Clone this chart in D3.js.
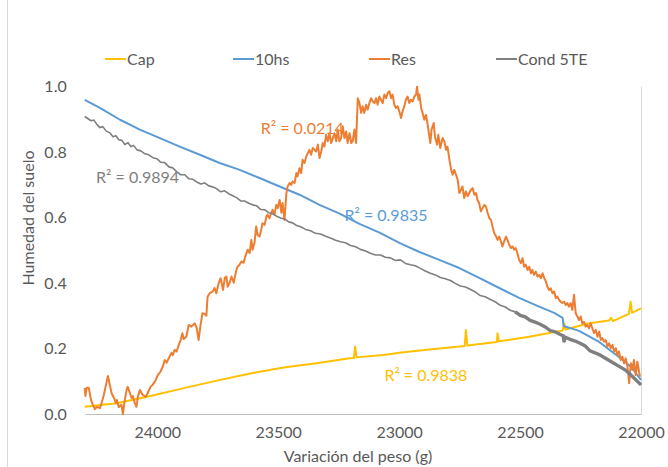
<!DOCTYPE html>
<html>
<head>
<meta charset="utf-8">
<script src="https://cdn.jsdelivr.net/npm/d3@7"></script>
<style>
  body { margin: 0; background: #fff; }
  svg text { font-family: Lato, "Noto Sans", sans-serif; }
</style>
</head>
<body>
<div id="chart"></div>
<script>
// ---- datos ----
var xTicks = [24000, 23500, 23000, 22500, 22000];
var yTicks = [0, 0.2, 0.4, 0.6, 0.8, 1.0];
var seriesNames = ["Cap", "10hs", "Res", "Cond 5TE"];

var capPeso = [24300, 24167, 24028, 23890, 23754, 23615, 23478, 23341, 23205, 23187, 23182, 23176, 23065, 22982, 22875, 22729, 22724, 22718, 22596, 22593, 22588, 22462, 22324, 22318, 22312, 22215, 22132, 22124, 22116, 22050, 22043, 22037, 22000];
var capHum = [0.022, 0.033, 0.055, 0.079, 0.102, 0.124, 0.142, 0.155, 0.170, 0.171, 0.206, 0.173, 0.180, 0.189, 0.197, 0.208, 0.257, 0.209, 0.220, 0.247, 0.222, 0.236, 0.255, 0.277, 0.258, 0.277, 0.286, 0.294, 0.284, 0.306, 0.343, 0.309, 0.323];

var hsPeso = [24300, 24237, 24154, 24072, 23989, 23907, 23824, 23742, 23659, 23577, 23494, 23412, 23329, 23246, 23164, 23081, 22999, 22916, 22834, 22751, 22669, 22586, 22504, 22421, 22359, 22324, 22320, 22256, 22173, 22091, 22037, 22000];
var hsHum = [0.960, 0.935, 0.899, 0.869, 0.843, 0.817, 0.792, 0.767, 0.746, 0.721, 0.695, 0.670, 0.639, 0.612, 0.581, 0.554, 0.523, 0.495, 0.471, 0.446, 0.416, 0.385, 0.355, 0.328, 0.309, 0.294, 0.269, 0.254, 0.220, 0.174, 0.141, 0.104];

var resPeso = [24300, 24297, 24292, 24283, 24274, 24266, 24258, 24250, 24237, 24230, 24221, 24212, 24204, 24196, 24189, 24179, 24171, 24167, 24159, 24148, 24142, 24134, 24127, 24122, 24113, 24106, 24101, 24093, 24086, 24080,
  24072, 24060, 24047, 24039, 24028, 24019, 24006, 23998, 23987, 23977, 23969, 23961, 23952, 23941, 23936, 23928, 23920, 23911, 23903, 23896, 23891, 23880, 23870, 23859, 23845, 23837, 23829, 23822, 23813, 23804,
  23797, 23792, 23783, 23771, 23763, 23756, 23746, 23738, 23728, 23721, 23714, 23709, 23701, 23693, 23684, 23673, 23668, 23660, 23652, 23643, 23636, 23626, 23618, 23611, 23606, 23598, 23591, 23585, 23577, 23570,
  23565, 23556, 23549, 23544, 23536, 23529, 23523, 23515, 23508, 23502, 23494, 23487, 23482, 23474, 23466, 23461, 23453, 23446, 23441, 23432, 23425, 23420, 23412, 23405, 23399, 23391, 23384, 23371, 23364, 23357,
  23343, 23336, 23329, 23322, 23316, 23309, 23302, 23295, 23288, 23281, 23274, 23267, 23260, 23254, 23247, 23240, 23233, 23226, 23219, 23213, 23205, 23198, 23192, 23185, 23178, 23171, 23164, 23157, 23151, 23144,
  23137, 23130, 23123, 23116, 23109, 23102, 23095, 23089, 23082, 23075, 23068, 23061, 23054, 23047, 23040, 23033, 23027, 23020, 23013, 23006, 22999, 22992, 22986, 22979, 22972, 22965, 22958, 22951, 22944, 22937,
  22930, 22926, 22920, 22916, 22909, 22903, 22896, 22889, 22882, 22875, 22871, 22866, 22857, 22852, 22843, 22838, 22830, 22820, 22813, 22806, 22800, 22792, 22785, 22779, 22772, 22765, 22758, 22751, 22744, 22738,
  22731, 22724, 22717, 22710, 22703, 22696, 22689, 22682, 22676, 22669, 22662, 22655, 22648, 22641, 22634, 22627, 22620, 22614, 22607, 22600, 22593, 22586, 22579, 22573, 22566, 22558, 22552, 22545, 22538, 22531,
  22524, 22518, 22511, 22504, 22497, 22490, 22483, 22476, 22469, 22462, 22455, 22449, 22442, 22435, 22428, 22421, 22414, 22407, 22400, 22393, 22387, 22380, 22373, 22366, 22359, 22352, 22346, 22339, 22332, 22325,
  22318, 22311, 22305, 22298, 22291, 22284, 22277, 22270, 22263, 22256, 22249, 22243, 22236, 22229, 22222, 22215, 22208, 22201, 22194, 22187, 22180, 22173, 22166, 22160, 22153, 22146, 22139, 22132, 22125, 22118,
  22111, 22104, 22098, 22091, 22084, 22077, 22070, 22063, 22056, 22049, 22042, 22036, 22029, 22022, 22015, 22008, 22004];
var resHum = [0.080, 0.055, 0.080, 0.080, 0.043, 0.028, 0.015, 0.022, 0.018, 0.034, 0.058, 0.089, 0.116, 0.089, 0.064, 0.049, 0.034, 0.043, 0.021, 0.028, 0.000, 0.043, 0.073, 0.083, 0.064, 0.049, 0.055, 0.034, 0.022, 0.053,
  0.073, 0.058, 0.053, 0.065, 0.083, 0.089, 0.104, 0.119, 0.129, 0.145, 0.165, 0.157, 0.171, 0.187, 0.180, 0.196, 0.191, 0.211, 0.226, 0.247, 0.229, 0.236, 0.272, 0.267, 0.277, 0.263, 0.226, 0.267, 0.308, 0.306,
  0.300, 0.358, 0.369, 0.374, 0.385, 0.369, 0.400, 0.415, 0.379, 0.416, 0.420, 0.389, 0.400, 0.420, 0.401, 0.440, 0.450, 0.456, 0.466, 0.462, 0.481, 0.502, 0.492, 0.532, 0.502, 0.523, 0.573, 0.547, 0.542, 0.563,
  0.583, 0.578, 0.603, 0.609, 0.598, 0.614, 0.624, 0.609, 0.639, 0.629, 0.654, 0.615, 0.645, 0.593, 0.675, 0.695, 0.706, 0.700, 0.710, 0.706, 0.736, 0.726, 0.751, 0.736, 0.777, 0.767, 0.787, 0.807, 0.792, 0.813,
  0.802, 0.823, 0.782, 0.802, 0.828, 0.817, 0.853, 0.833, 0.858, 0.828, 0.843, 0.858, 0.833, 0.869, 0.833, 0.843, 0.879, 0.843, 0.863, 0.828, 0.858, 0.828, 0.833, 0.869, 0.828, 0.965, 0.950, 0.920, 0.940, 0.920,
  0.945, 0.930, 0.950, 0.965, 0.955, 0.950, 0.965, 0.945, 0.970, 0.960, 0.950, 0.976, 0.965, 0.981, 0.986, 0.965, 0.976, 0.945, 0.935, 0.940, 0.924, 0.904, 0.924, 0.940, 0.960, 0.970, 0.950, 0.960, 0.955, 0.970,
  0.976, 1.000, 0.960, 0.976, 0.935, 0.920, 0.899, 0.914, 0.884, 0.848, 0.828, 0.869, 0.889, 0.848, 0.823, 0.853, 0.813, 0.843, 0.833, 0.807, 0.817, 0.777, 0.746, 0.731, 0.746, 0.731, 0.716, 0.675, 0.685, 0.695,
  0.660, 0.680, 0.665, 0.675, 0.685, 0.690, 0.670, 0.675, 0.654, 0.644, 0.619, 0.629, 0.639, 0.634, 0.614, 0.598, 0.593, 0.573, 0.553, 0.544, 0.532, 0.542, 0.527, 0.512, 0.527, 0.542, 0.532, 0.517, 0.507, 0.512,
  0.502, 0.507, 0.491, 0.471, 0.461, 0.476, 0.450, 0.456, 0.440, 0.450, 0.430, 0.440, 0.425, 0.435, 0.420, 0.425, 0.415, 0.430, 0.415, 0.405, 0.389, 0.379, 0.384, 0.369, 0.374, 0.354, 0.359, 0.349, 0.343, 0.339,
  0.343, 0.333, 0.339, 0.328, 0.339, 0.318, 0.364, 0.308, 0.298, 0.287, 0.298, 0.277, 0.282, 0.267, 0.272, 0.262, 0.277, 0.262, 0.247, 0.257, 0.236, 0.252, 0.226, 0.232, 0.221, 0.226, 0.206, 0.216, 0.201, 0.211,
  0.191, 0.201, 0.180, 0.191, 0.165, 0.175, 0.155, 0.170, 0.145, 0.094, 0.155, 0.135, 0.165, 0.119, 0.160, 0.129, 0.114];

var condPeso = [24300, 24286, 24274, 24262, 24249, 24237, 24225, 24212, 24196, 24183, 24171, 24159, 24146, 24134, 24121, 24109, 24097, 24084, 24068, 24051, 24035, 24018, 24002, 23985, 23969, 23952, 23936, 23919, 23903, 23886,
  23870, 23853, 23837, 23820, 23804, 23787, 23771, 23754, 23738, 23721, 23705, 23688, 23672, 23655, 23639, 23622, 23606, 23589, 23573, 23556, 23539, 23523, 23506, 23490, 23473, 23457, 23440, 23424, 23407, 23387,
  23366, 23346, 23325, 23304, 23284, 23263, 23242, 23222, 23201, 23180, 23160, 23139, 23119, 23098, 23077, 23057, 23036, 23015, 22995, 22974, 22953, 22933, 22912, 22892, 22871, 22850, 22830, 22809, 22788, 22768,
  22747, 22726, 22706, 22685, 22665, 22644, 22623, 22603, 22582, 22561, 22541, 22520, 22499, 22479, 22458, 22438, 22417, 22396, 22376, 22355, 22334, 22322, 22318, 22314, 22293, 22272, 22252, 22231, 22211, 22190,
  22169, 22149, 22128, 22107, 22087, 22066, 22046, 22025, 22000];
var condHum = [0.909, 0.902, 0.896, 0.898, 0.884, 0.875, 0.878, 0.865, 0.859, 0.847, 0.850, 0.838, 0.836, 0.823, 0.829, 0.817, 0.820, 0.807, 0.804, 0.795, 0.792, 0.783, 0.780, 0.769, 0.768, 0.755, 0.752, 0.740, 0.731, 0.731,
  0.719, 0.717, 0.709, 0.703, 0.706, 0.697, 0.694, 0.688, 0.679, 0.682, 0.673, 0.667, 0.661, 0.651, 0.651, 0.644, 0.639, 0.636, 0.625, 0.624, 0.615, 0.612, 0.604, 0.599, 0.596, 0.587, 0.584, 0.576, 0.572, 0.564,
  0.560, 0.552, 0.550, 0.543, 0.538, 0.531, 0.526, 0.523, 0.515, 0.511, 0.503, 0.498, 0.491, 0.486, 0.486, 0.479, 0.477, 0.469, 0.471, 0.460, 0.456, 0.453, 0.445, 0.437, 0.430, 0.425, 0.417, 0.413, 0.408, 0.399,
  0.391, 0.388, 0.381, 0.373, 0.362, 0.358, 0.350, 0.343, 0.332, 0.327, 0.317, 0.312, 0.301, 0.297, 0.286, 0.281, 0.274, 0.266, 0.255, 0.251, 0.243, 0.239, 0.220, 0.235, 0.228, 0.223, 0.216, 0.208, 0.193, 0.187,
  0.180, 0.171, 0.162, 0.153, 0.144, 0.135, 0.122, 0.107, 0.089];

// etiquetas R2: [peso, humedad] donde empieza el texto
var r2Text = ["R² = 0.9838", "R² = 0.9835", "R² = 0.0214", "R² = 0.9894"];
var r2Peso = [23061, 23226, 23572, 24253];
var r2Hum = [0.101, 0.589, 0.855, 0.706];

var colors = ["#FFC000", "#5B9BD5", "#ED7D31", "#7F7F7F"];

// ---- dibujo ----
var W = 668, H = 467;
var svg = d3.select("#chart").append("svg").attr("width", W).attr("height", H);

var x = d3.scaleLinear().domain([24300, 22000]).range([84.7, 641]);
var y = d3.scaleLinear().domain([0, 1]).range([414, 86.7]);

// borde izquierdo del grafico y borde derecho del area de trazado
svg.append("line").attr("x1", 7.5).attr("x2", 7.5).attr("y1", 0).attr("y2", H)
  .attr("stroke", "#d9d9d9");
svg.append("line").attr("x1", 641.5).attr("x2", 641.5).attr("y1", y(1)).attr("y2", y(0))
  .attr("stroke", "#d9d9d9");

// eje x
var xAxis = svg.append("g")
  .attr("transform", "translate(0," + y(0) + ")")
  .call(d3.axisBottom(x).tickValues(xTicks).tickSize(0).tickPadding(13).tickFormat(d3.format("d")));
xAxis.select(".domain").attr("stroke", "#bfbfbf");
xAxis.selectAll("text").attr("fill", "#595959").style("font-size", "16px");

// eje y
var yAxis = svg.append("g")
  .attr("transform", "translate(84.7,0)")
  .call(d3.axisLeft(y).tickValues(yTicks).tickSize(0).tickPadding(18).tickFormat(d3.format(".1f")));
yAxis.select(".domain").remove();
yAxis.selectAll("text").attr("fill", "#595959").style("font-size", "16px");

// titulos de ejes
svg.append("text").text("Variación del peso (g)")
  .attr("x", 358).attr("y", 462).attr("text-anchor", "middle")
  .attr("fill", "#595959").style("font-size", "16px");
svg.append("text").text("Humedad del suelo")
  .attr("transform", "translate(34,218) rotate(-90)").attr("text-anchor", "middle")
  .attr("fill", "#595959").style("font-size", "16px");

// series
var line = d3.line().x(function(d) { return x(d[0]); }).y(function(d) { return y(d[1]); });
var allSeries = [
  d3.zip(capPeso, capHum),
  d3.zip(hsPeso, hsHum),
  d3.zip(resPeso, resHum),
  d3.zip(condPeso, condHum)
];
var widths = [2, 2, 2, 1.6];

allSeries.forEach(function(s, i) {
  svg.append("path").datum(s)
    .attr("fill", "none")
    .attr("stroke", colors[i])
    .attr("stroke-width", widths[i])
    .attr("stroke-linejoin", "round")
    .attr("d", line);
});
// la parte final de Cond 5TE se ve mas gruesa (muchos puntos)
svg.append("path").datum(allSeries[3].filter(function(d) { return d[0] <= 22520; }))
  .attr("fill", "none").attr("stroke", colors[3]).attr("stroke-width", 3.4)
  .attr("d", line);

// etiquetas R2
r2Text.forEach(function(t, i) {
  svg.append("text").text(t)
    .attr("x", x(r2Peso[i])).attr("y", y(r2Hum[i]))
    .attr("fill", colors[i]).style("font-size", "16px");
});

// leyenda
var legX = [105, 233, 369, 496];
var leg = svg.append("g");
seriesNames.forEach(function(n, i) {
  leg.append("line").attr("x1", legX[i]).attr("x2", legX[i] + 21)
    .attr("y1", 59).attr("y2", 59)
    .attr("stroke", colors[i]).attr("stroke-width", 2);
  leg.append("text").text(n).attr("x", legX[i] + 22).attr("y", 65)
    .attr("fill", "#595959").style("font-size", "16px");
});
</script>
</body>
</html>
